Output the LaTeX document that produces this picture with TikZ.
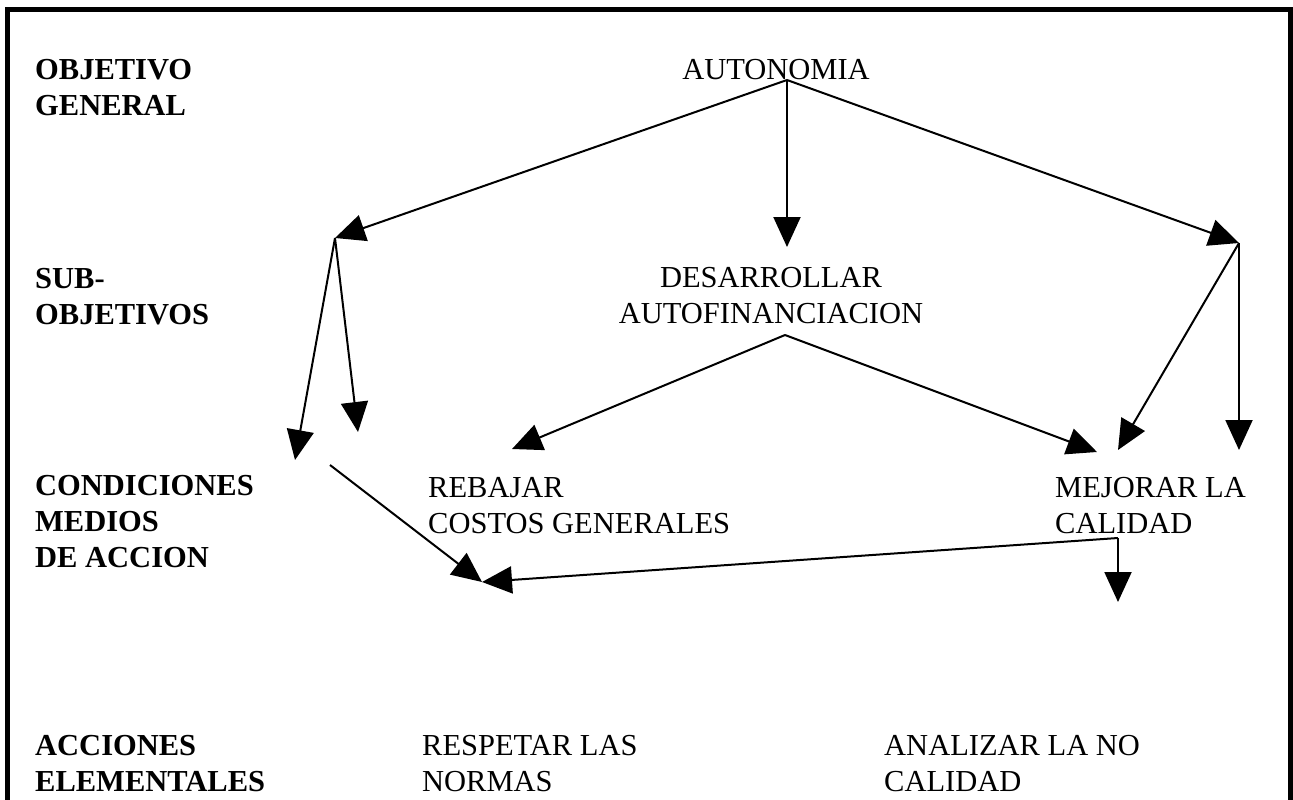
\documentclass[tikz,border=0pt]{standalone}
\usepackage{fontspec}
\setmainfont{Liberation Serif}
\usetikzlibrary{arrows.meta}
\begin{document}
\begin{tikzpicture}[x=1pt,y=-1pt,
  lab/.style={inner sep=0pt,anchor=north west,align=left,font=\fontsize{30.5}{36}\selectfont\bfseries},
  txt/.style={inner sep=0pt,anchor=north west,align=left,font=\fontsize{30.5}{36}\selectfont},
  conn/.style={line width=2pt,-{Triangle[length=30pt,width=27pt]}},
  frame/.style={line width=5pt}]
\useasboundingbox (0,0) rectangle (1293,800);
\draw[frame] (7.5,820) -- (7.5,9.5) -- (1290.5,9.5) -- (1290.5,820);
% left labels (top = baseline - 20)
\node[lab] (objgen) at (35,59) {OBJETIVO\\GENERAL};
\node[lab] (subobj) at (35,268) {SUB-\\OBJETIVOS};
\node[lab] (cond) at (35,475) {CONDICIONES\\MEDIOS\\DE ACCION};
\node[lab] (acc) at (35,735) {ACCIONES\\ELEMENTALES};
% content
\node[txt,anchor=north] (auto) at (776,59) {AUTONOMIA};
\node[txt,anchor=north,align=center] (desa) at (771,267) {DESARROLLAR\\AUTOFINANCIACION};
\node[txt] (rebajar) at (428,477) {REBAJAR\\COSTOS GENERALES};
\node[txt] (mejorar) at (1055,477) {MEJORAR LA\\CALIDAD};
\node[txt] (respetar) at (422,735) {RESPETAR LAS\\NORMAS};
\node[txt] (analizar) at (884,735) {ANALIZAR LA NO\\CALIDAD};
% junction points
\coordinate (autoapex) at (787,80);
\coordinate (lbranch) at (335,238);
\coordinate (rbranch) at (1239,243);
\coordinate (desatop) at (787,247);
\coordinate (desaapex) at (785,335);
\coordinate (l1) at (295,460);
\coordinate (l2) at (358,432);
\coordinate (lstart) at (330,465);
\coordinate (rebajartip) at (512,449);
\coordinate (mejtip1) at (1097,452);
\coordinate (mejtip2) at (1118,450);
\coordinate (rtip) at (1239,450);
\coordinate (mejapex) at (1118,538);
\coordinate (resptip) at (482,582);
\coordinate (analtip) at (1118,602);
% connectors
\draw[conn] (autoapex) -- (lbranch);
\draw[conn] (autoapex) -- (desatop);
\draw[conn] (autoapex) -- (rbranch);
\draw[conn] (lbranch) -- (l1);
\draw[conn] (lbranch) -- (l2);
\draw[conn] (desaapex) -- (rebajartip);
\draw[conn] (desaapex) -- (mejtip1);
\draw[conn] (rbranch) -- (mejtip2);
\draw[conn] (rbranch) -- (rtip);
\draw[conn] (lstart) -- (resptip);
\draw[conn] (mejapex) -- (resptip);
\draw[conn] (mejapex) -- (analtip);
\end{tikzpicture}
\end{document}
